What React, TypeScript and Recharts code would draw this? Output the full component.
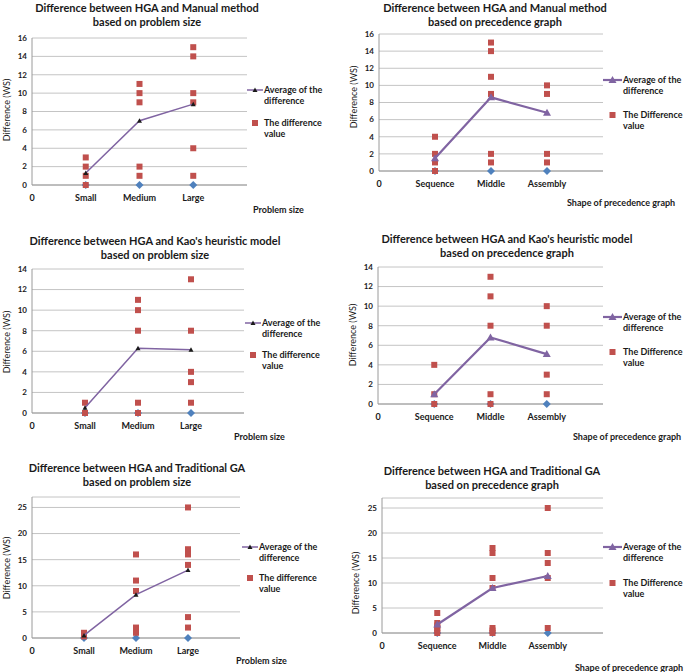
import React from "react";
import { ScatterChart, Scatter, XAxis, YAxis, CartesianGrid } from "recharts";

const sizeCategories = ["Small", "Medium", "Large"];
const graphCategories = ["Sequence", "Middle", "Assembly"];

// HGA vs manual method
const manualSizeAvg = [1.3, 7, 8.8];
const manualSizeValues = [[3, 2, 1, 0], [11, 10, 9, 2, 1], [15, 14, 10, 9, 4, 1]];
const manualGraphAvg = [1.5, 8.6, 6.8];
const manualGraphValues = [[4, 2, 1, 0], [15, 14, 11, 9, 2, 1], [10, 9, 2, 1]];

// HGA vs Kao's heuristic
const kaoSizeAvg = [0.5, 6.3, 6.15];
const kaoSizeValues = [[1, 0], [11, 10, 8, 1, 0], [13, 8, 4, 3, 1]];
const kaoGraphAvg = [1, 6.8, 5.1];
const kaoGraphValues = [[4, 1, 0], [13, 11, 8, 1, 0], [10, 8, 3, 1]];

// HGA vs traditional GA
const gaSizeAvg = [0.5, 8.3, 13];
const gaSizeValues = [[1, 0.3], [16, 11, 9, 2, 1], [25, 17, 16, 14, 4, 2]];
const gaGraphAvg = [1.7, 9, 11.4];
const gaGraphValues = [[4, 2, 1.5, 1, 0.5, 0], [17, 16, 11, 9, 1, 0.5, 0], [25, 16, 14, 11, 1]];

const ticks16 = [0, 2, 4, 6, 8, 10, 12, 14, 16];
const ticks14 = [0, 2, 4, 6, 8, 10, 12, 14];
const ticks25 = [0, 5, 10, 15, 20, 25];

const FONT = 'Lato, "Open Sans", sans-serif';
const RED = "#C0504D";
const BLUE = "#4F81BD";
const PURPLE = "#8064A2";

type Pt = { x: number; y: number };

const toAvg = (avg: number[]): Pt[] => avg.map((v, i) => ({ x: i + 1, y: v }));
const toVals = (vals: number[][]): Pt[] =>
  vals.flatMap((col, i) => col.map((v) => ({ x: i + 1, y: v })));
const zeros = (cats: string[]): Pt[] => cats.map((_, i) => ({ x: i + 1, y: 0 }));

const Square = (p: any) => (
  <rect x={p.cx - 3} y={p.cy - 3} width={6} height={6} fill={RED} />
);
const Diamond = (p: any) => (
  <path d={`M${p.cx},${p.cy - 4}L${p.cx + 4},${p.cy}L${p.cx},${p.cy + 4}L${p.cx - 4},${p.cy}Z`} fill={BLUE} />
);
const SmallTri = (p: any) => (
  <path d={`M${p.cx},${p.cy - 2.5}L${p.cx + 2.5},${p.cy + 2}L${p.cx - 2.5},${p.cy + 2}Z`} fill="#1a1a1a" />
);
const BigTri = (p: any) => (
  <path d={`M${p.cx},${p.cy - 4}L${p.cx + 4},${p.cy + 3}L${p.cx - 4},${p.cy + 3}Z`} fill={PURPLE} />
);

type Panel = {
  title: string;
  subtitle: string;
  cats: string[];
  avg: number[];
  vals: number[][];
  yMax: number;
  yTicks: number[];
  big: boolean; // right-hand style (purple triangles)
  xTitle: string;
  legend2: string;
  // layout (page pixels)
  x0: number;
  x1: number;
  yTop: number;
  yBot: number;
  titleX: number;
  titleY: number;
  legX: number;
  legY1: number;
  legY2: number;
  xtX: number;
  xtY: number;
  ylX: number;
  ylY: number;
};

const panels: Panel[] = [
  {
    title: "Difference between HGA and Manual method", subtitle: "based on problem size",
    cats: sizeCategories, avg: manualSizeAvg, vals: manualSizeValues, yMax: 16, yTicks: ticks16,
    big: false, xTitle: "Problem size", legend2: "The difference",
    x0: 32, x1: 247, yTop: 38, yBot: 185, titleX: 147, titleY: 7,
    legX: 247, legY1: 90, legY2: 123, xtX: 253, xtY: 210, ylX: 6, ylY: 110,
  },
  {
    title: "Difference between HGA and Manual method", subtitle: "based on precedence graph",
    cats: graphCategories, avg: manualGraphAvg, vals: manualGraphValues, yMax: 16, yTicks: ticks16,
    big: true, xTitle: "Shape of precedence graph", legend2: "The Difference",
    x0: 379, x1: 603, yTop: 34, yBot: 171, titleX: 495, titleY: 7,
    legX: 603, legY1: 80, legY2: 115, xtX: 567, xtY: 203, ylX: 353, ylY: 97,
  },
  {
    title: "Difference between HGA and Kao's heuristic model", subtitle: "based on problem size",
    cats: sizeCategories, avg: kaoSizeAvg, vals: kaoSizeValues, yMax: 14, yTicks: ticks14,
    big: false, xTitle: "Problem size", legend2: "The difference",
    x0: 32, x1: 244, yTop: 269, yBot: 413, titleX: 155, titleY: 240,
    legX: 245, legY1: 323, legY2: 355, xtX: 234, xtY: 437, ylX: 6, ylY: 342,
  },
  {
    title: "Difference between HGA and Kao's heuristic model", subtitle: "based on precedence graph",
    cats: graphCategories, avg: kaoGraphAvg, vals: kaoGraphValues, yMax: 14, yTicks: ticks14,
    big: true, xTitle: "Shape of precedence graph", legend2: "The Difference",
    x0: 378, x1: 603, yTop: 267, yBot: 404, titleX: 507, titleY: 238,
    legX: 603, legY1: 317, legY2: 352, xtX: 573, xtY: 437, ylX: 352, ylY: 335,
  },
  {
    title: "Difference between HGA and Traditional GA", subtitle: "based on problem size",
    cats: sizeCategories, avg: gaSizeAvg, vals: gaSizeValues, yMax: 27, yTicks: ticks25,
    big: false, xTitle: "Problem size", legend2: "The difference",
    x0: 32, x1: 240, yTop: 497, yBot: 638, titleX: 137, titleY: 467,
    legX: 242, legY1: 547, legY2: 578, xtX: 236, xtY: 661, ylX: 6, ylY: 568,
  },
  {
    title: "Difference between HGA and Traditional GA", subtitle: "based on precedence graph",
    cats: graphCategories, avg: gaGraphAvg, vals: gaGraphValues, yMax: 27, yTicks: ticks25,
    big: true, xTitle: "Shape of precedence graph", legend2: "The Difference",
    x0: 382, x1: 603, yTop: 498, yBot: 633, titleX: 492, titleY: 470,
    legX: 603, legY1: 547, legY2: 583, xtX: 575, xtY: 668, ylX: 355, ylY: 583,
  },
];

const textBase: React.CSSProperties = {
  position: "absolute",
  fontFamily: FONT,
  color: "#1a1a1a",
  whiteSpace: "nowrap",
};

const AXIS_W = 40;
const PAD = 6;
const XAXIS_H = 30;

function ChartPanel({ p }: { p: Panel }) {
  const w = p.x1 - p.x0 + AXIS_W + PAD;
  const h = p.yBot - p.yTop + PAD + XAXIS_H;
  const sampleW = p.big ? 19 : 16;
  const yTickStyle = { fontSize: 8, fontWeight: 700, fill: "#1a1a1a", fontFamily: FONT };
  const xTickStyle = { fontSize: 9, fontWeight: 700, fill: "#1a1a1a", fontFamily: FONT };
  return (
    <>
      <div style={{ ...textBase, left: p.titleX, top: p.titleY - 6, transform: "translateX(-50%)", textAlign: "center", fontSize: 11, fontWeight: 700, lineHeight: "14px" }}>
        {p.title}
        <br />
        {p.subtitle}
      </div>
      <div style={{ position: "absolute", left: p.x0 - AXIS_W, top: p.yTop - PAD }}>
        <ScatterChart width={w} height={h} margin={{ top: PAD, right: PAD, left: 0, bottom: 0 }}>
          <CartesianGrid vertical={false} stroke="#c4c4c4" />
          <XAxis
            type="number"
            dataKey="x"
            domain={[0, 4]}
            ticks={[0, 1, 2, 3]}
            tickFormatter={(v: number) => (v === 0 ? "0" : p.cats[v - 1])}
            stroke="#9a9a9a"
            tickLine={false}
            tickSize={8}
            height={XAXIS_H}
            tick={xTickStyle}
            interval={0}
          />
          <YAxis
            type="number"
            dataKey="y"
            domain={[0, p.yMax]}
            ticks={p.yTicks}
            stroke="#9a9a9a"
            tickLine={false}
            tickSize={3}
            width={AXIS_W}
            tick={yTickStyle}
            interval={0}
          />
          <Scatter data={zeros(p.cats)} shape={Diamond} isAnimationActive={false} />
          <Scatter data={toVals(p.vals)} shape={Square} isAnimationActive={false} />
          <Scatter
            data={toAvg(p.avg)}
            line={{ stroke: PURPLE, strokeWidth: p.big ? 2.2 : 1.5 }}
            shape={p.big ? BigTri : SmallTri}
            isAnimationActive={false}
          />
        </ScatterChart>
      </div>
      <div style={{ ...textBase, left: p.ylX, top: p.ylY, transform: "translate(-50%, -50%) rotate(-90deg)", fontSize: 9 }}>
        Difference (WS)
      </div>
      <div style={{ ...textBase, left: p.xtX, top: p.xtY - 6, fontSize: 9, fontWeight: 700, lineHeight: "12px" }}>
        {p.xTitle}
      </div>
      {/* legend */}
      <svg style={{ position: "absolute", left: p.legX, top: p.legY1 - 5 }} width={sampleW} height={10}>
        <line x1={0} y1={5} x2={sampleW} y2={5} stroke={PURPLE} strokeWidth={p.big ? 2.2 : 1.5} />
        {p.big ? <BigTri cx={sampleW / 2} cy={5} /> : <SmallTri cx={sampleW / 2} cy={5} />}
      </svg>
      <svg style={{ position: "absolute", left: p.legX, top: p.legY2 - 5 }} width={sampleW} height={10}>
        <Square cx={sampleW / 2} cy={5} />
      </svg>
      <div style={{ ...textBase, left: p.legX + sampleW + 1, top: p.legY1 - 6, fontSize: 9, fontWeight: 700, lineHeight: "11px" }}>
        Average of the
        <br />
        difference
      </div>
      <div style={{ ...textBase, left: p.legX + sampleW + 1, top: p.legY2 - 6, fontSize: 9, fontWeight: 700, lineHeight: "11px" }}>
        {p.legend2}
        <br />
        value
      </div>
    </>
  );
}

export default function App() {
  return (
    <div style={{ position: "absolute", left: 0, top: 0, width: 685, height: 672, overflow: "hidden", background: "#fff" }}>
      {panels.map((p, i) => (
        <ChartPanel key={i} p={p} />
      ))}
    </div>
  );
}
